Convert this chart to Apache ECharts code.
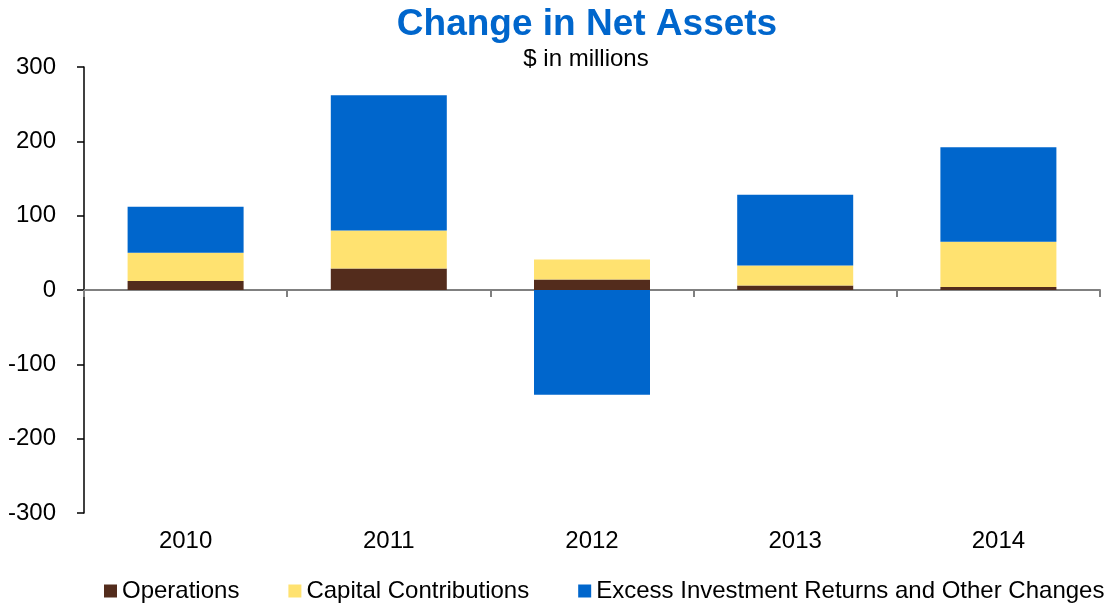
<!DOCTYPE html>
<html>
<head>
<meta charset="utf-8">
<script src="https://cdn.jsdelivr.net/npm/echarts@6/dist/echarts.min.js"></script>
<style>
  html, body { margin: 0; padding: 0; background: #fff; }
  #chart { width: 1113px; height: 605px; }
</style>
</head>
<body>
<div id="chart"></div>
<script>
const years = ['2010', '2011', '2012', '2013', '2014'];
const operations = [12, 29, 14, 6, 4];
const capitalContributions = [38, 51, 27, 27, 61];
const excessReturns = [62, 182, -141, 95, 127];
const yTicks = { min: -300, max: 300, interval: 100 };

const font = 'Liberation Sans, Arial, sans-serif';
const chart = echarts.init(document.getElementById('chart'), null, { renderer: 'canvas' });

chart.setOption({
    animation: false,
    textStyle: { fontFamily: font },
    title: [{
        text: 'Change in Net Assets',
        left: 582,
        textAlign: 'center',
        top: 1,
        textStyle: { color: '#0066CC', fontSize: 37, fontWeight: 'bold', fontFamily: font }
    }, {
        text: '$ in millions',
        left: 581,
        textAlign: 'center',
        top: 42,
        textStyle: { color: '#000', fontSize: 24, fontWeight: 'normal', fontFamily: font }
    }],
    legend: {
        top: 579,
        left: 104,
        width: 1009,
        padding: 0,
        itemWidth: 13,
        itemHeight: 13,
        itemGap: 49,
        icon: 'rect',
        textStyle: { fontSize: 24, color: '#000', fontFamily: font },
        data: ['Operations', 'Capital Contributions', 'Excess Investment Returns and Other Changes']
    },
    grid: { left: 84, right: 13, top: 67, bottom: 92 },
    xAxis: [{
        type: 'category',
        data: years,
        axisLine: { onZero: true, lineStyle: { color: '#808080', width: 2 } },
        axisTick: { show: true, length: 7, lineStyle: { color: '#808080', width: 2 } },
        axisLabel: { show: false }
    }, {
        type: 'category',
        data: years,
        position: 'bottom',
        axisLine: { show: false, onZero: false },
        axisTick: { show: false },
        axisLabel: { fontSize: 24, color: '#000', margin: 16, fontFamily: font }
    }],
    yAxis: {
        type: 'value',
        min: yTicks.min,
        max: yTicks.max,
        interval: yTicks.interval,
        axisLine: { show: true, lineStyle: { color: '#000', width: 1.5 } },
        axisTick: { show: true, length: 7, lineStyle: { color: '#000', width: 1.5 } },
        splitLine: { show: false },
        axisLabel: { fontSize: 24, color: '#000', margin: 28, fontFamily: font }
    },
    series: [{
        name: 'Operations',
        type: 'bar',
        stack: 'total',
        barWidth: 116,
        itemStyle: { color: '#532C1C' },
        data: operations
    }, {
        name: 'Capital Contributions',
        type: 'bar',
        stack: 'total',
        itemStyle: { color: '#FFE270' },
        data: capitalContributions
    }, {
        name: 'Excess Investment Returns and Other Changes',
        type: 'bar',
        stack: 'total',
        itemStyle: { color: '#0066CC' },
        data: excessReturns
    }]
});
</script>
</body>
</html>
